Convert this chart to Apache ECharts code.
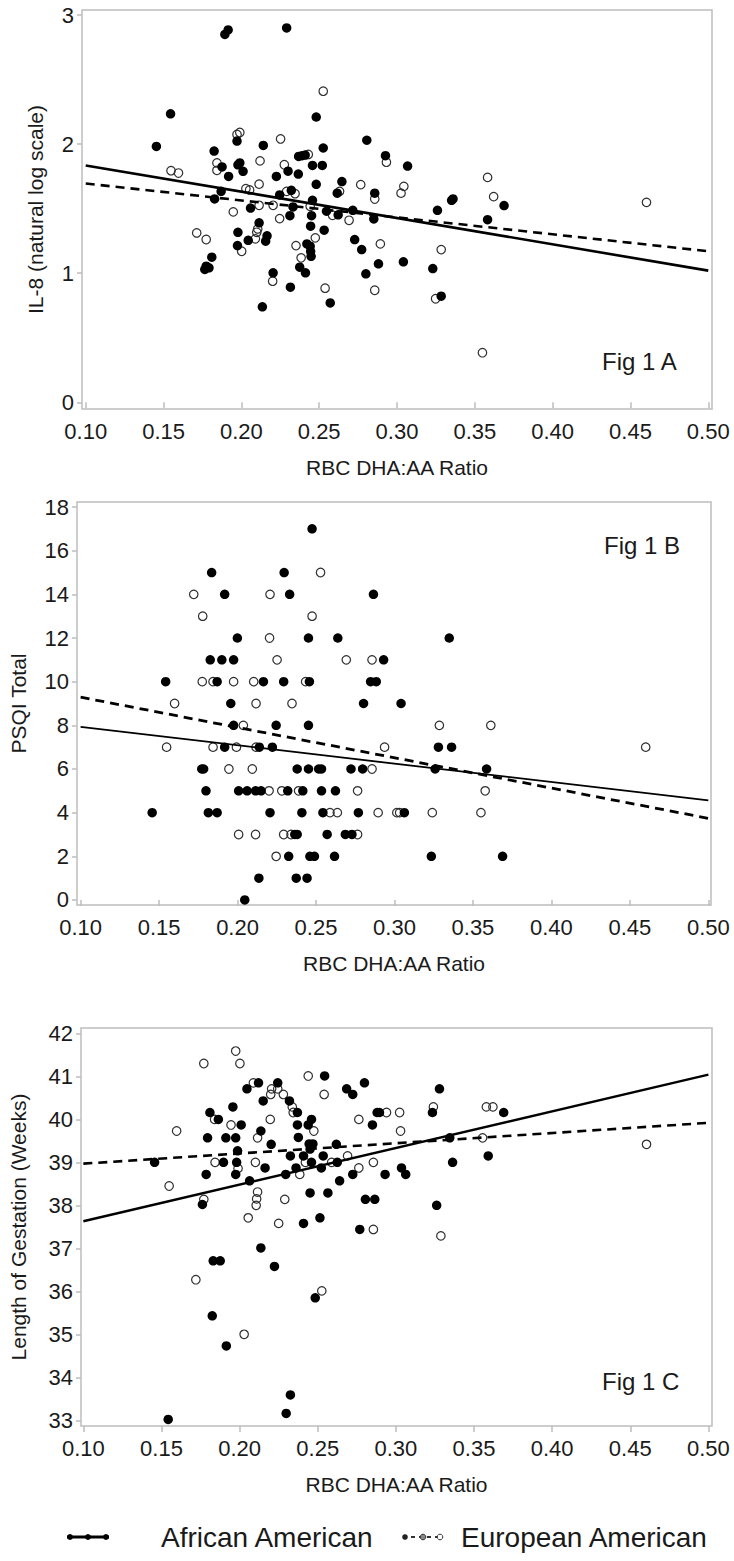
<!DOCTYPE html>
<html>
<head>
<meta charset="utf-8">
<script src="https://cdn.jsdelivr.net/npm/echarts@6/dist/echarts.min.js"></script>
<style>
html,body{margin:0;padding:0;background:#fff;}
#chart{width:734px;height:1561px;}
</style>
</head>
<body>
<div id="chart"></div>
<script>
// ---------- data ----------
const xTicks = [0.10, 0.15, 0.20, 0.25, 0.30, 0.35, 0.40, 0.45, 0.50];
const yTicksA = [0, 1, 2, 3];
const yTicksB = [0, 2, 4, 6, 8, 10, 12, 14, 16, 18];
const yTicksC = [33, 34, 35, 36, 37, 38, 39, 40, 41, 42];

// Fig 1A: IL-8 (natural log scale)
const aAfrican = [[0.1894,2.85],[0.1915,2.885],[0.2291,2.90],[0.1545,2.235],[0.2481,2.21],[0.1972,2.024],[0.1454,1.982],[0.2141,1.99],[0.2526,1.97],[0.2806,2.03],[0.1825,1.946],[0.2926,1.91],[0.2368,1.905],[0.2390,1.91],[0.2410,1.915],[0.1876,1.823],[0.1978,1.84],[0.1990,1.854],[0.2011,1.789],[0.1918,1.75],[0.2457,1.835],[0.2520,1.835],[0.3068,1.83],[0.2225,1.75],[0.2300,1.79],[0.2366,1.768],[0.2481,1.689],[0.2646,1.71],[0.1870,1.634],[0.2246,1.606],[0.2321,1.642],[0.2616,1.62],[0.2857,1.62],[0.1828,1.575],[0.2457,1.565],[0.3351,1.565],[0.3360,1.575],[0.3688,1.524],[0.2059,1.505],[0.2332,1.513],[0.2547,1.48],[0.2716,1.487],[0.2312,1.446],[0.2451,1.446],[0.2622,1.452],[0.2851,1.42],[0.3260,1.487],[0.3582,1.415],[0.2114,1.39],[0.2445,1.364],[0.2532,1.333],[0.1978,1.317],[0.2165,1.29],[0.2156,1.248],[0.2044,1.255],[0.2728,1.261],[0.2421,1.227],[0.2442,1.209],[0.2445,1.17],[0.2448,1.131],[0.1975,1.214],[0.2773,1.183],[0.1810,1.124],[0.1774,1.054],[0.1765,1.029],[0.1792,1.042],[0.2881,1.073],[0.3041,1.088],[0.2375,1.047],[0.2412,1.003],[0.3230,1.036],[0.2204,1.003],[0.2800,0.995],[0.2315,0.892],[0.3284,0.822],[0.2135,0.74],[0.2571,0.77]];
const aEuropean = [[0.2526,2.41],[0.1972,2.075],[0.1990,2.09],[0.2252,2.04],[0.2430,1.92],[0.1843,1.854],[0.1843,1.797],[0.2120,1.87],[0.2276,1.84],[0.2932,1.86],[0.1548,1.794],[0.1596,1.776],[0.2114,1.69],[0.2767,1.686],[0.3582,1.742],[0.2029,1.655],[0.2053,1.645],[0.2291,1.634],[0.2345,1.616],[0.2631,1.634],[0.2857,1.575],[0.3026,1.62],[0.3044,1.673],[0.3621,1.593],[0.4603,1.549],[0.2114,1.526],[0.2204,1.526],[0.2442,1.518],[0.1948,1.475],[0.2586,1.449],[0.2246,1.423],[0.2692,1.41],[0.2105,1.343],[0.2099,1.317],[0.2090,1.266],[0.1713,1.312],[0.1774,1.261],[0.2475,1.274],[0.2351,1.214],[0.2002,1.17],[0.2893,1.227],[0.3284,1.183],[0.2384,1.119],[0.2201,0.938],[0.2538,0.884],[0.2857,0.868],[0.3248,0.802],[0.3549,0.384]];
const aFitAfrican = [[0.10,1.835],[0.50,1.02]];
const aFitEuropean = [[0.10,1.695],[0.50,1.17]];

// Fig 1B: PSQI Total
const bAfrican = [[0.2475,17],[0.1835,15],[0.2297,15],[0.1918,14],[0.2332,14],[0.2866,14],[0.1999,12],[0.2452,12],[0.2639,12],[0.3349,12],[0.1826,11],[0.1900,11],[0.1975,11],[0.2931,11],[0.1542,10],[0.1870,10],[0.2165,10],[0.2294,10],[0.2458,10],[0.2848,10],[0.2884,10],[0.1957,9],[0.2803,9],[0.3042,9],[0.1975,8],[0.2246,8],[0.2452,8],[0.1918,7],[0.2139,7],[0.2222,7],[0.3280,7],[0.3364,7],[0.1772,6],[0.1784,6],[0.2380,6],[0.2452,6],[0.2517,6],[0.2535,6],[0.2723,6],[0.2797,6],[0.3259,6],[0.3587,6],[0.1799,5],[0.2007,5],[0.2061,5],[0.2115,5],[0.2150,5],[0.2320,5],[0.2416,5],[0.2535,5],[0.2624,5],[0.1456,4],[0.1814,4],[0.1870,4],[0.2207,4],[0.2410,4],[0.2544,4],[0.2770,4],[0.3063,4],[0.2365,3],[0.2380,3],[0.2571,3],[0.2687,3],[0.2729,3],[0.2326,2],[0.2461,2],[0.2490,2],[0.2618,2],[0.3235,2],[0.3689,2],[0.2136,1],[0.2374,1],[0.2443,1],[0.2046,0]];
const bEuropean = [[0.2529,15],[0.1721,14],[0.2207,14],[0.1778,13],[0.2475,13],[0.2204,12],[0.2252,11],[0.2693,11],[0.2857,11],[0.1775,10],[0.1844,10],[0.1975,10],[0.2103,10],[0.2434,10],[0.1599,9],[0.2118,9],[0.2347,9],[0.2037,8],[0.3286,8],[0.3614,8],[0.1548,7],[0.1844,7],[0.1993,7],[0.2118,7],[0.2937,7],[0.4601,7],[0.1945,6],[0.2094,6],[0.2857,6],[0.2201,5],[0.2282,5],[0.2389,5],[0.2765,5],[0.3578,5],[0.2589,4],[0.2636,4],[0.2896,4],[0.3015,4],[0.3033,4],[0.3241,4],[0.3551,4],[0.2007,3],[0.2115,3],[0.2294,3],[0.2341,3],[0.2765,3],[0.2246,2]];
const bFitAfrican = [[0.10,7.93],[0.50,4.56]];
const bFitEuropean = [[0.10,9.29],[0.50,3.74]];

// Fig 1C: Length of Gestation (Weeks)
const cAfrican = [[0.2544,41.01],[0.2121,40.85],[0.2244,40.85],[0.2799,40.85],[0.2047,40.71],[0.2685,40.71],[0.2724,40.58],[0.3279,40.71],[0.2319,40.43],[0.2151,40.43],[0.3690,40.16],[0.1810,40.16],[0.1957,40.29],[0.2370,40.16],[0.2880,40.16],[0.2895,40.16],[0.3234,40.16],[0.1864,40.0],[0.2460,40.0],[0.2010,39.87],[0.2370,39.87],[0.2439,39.87],[0.2850,39.87],[0.1795,39.57],[0.1912,39.57],[0.1975,39.57],[0.2136,39.73],[0.2376,39.58],[0.3345,39.57],[0.2202,39.42],[0.2445,39.43],[0.2469,39.43],[0.2619,39.42],[0.1987,39.27],[0.2451,39.31],[0.2325,39.15],[0.2409,39.15],[0.2535,39.15],[0.3591,39.15],[0.1456,39.0],[0.1897,39.0],[0.1981,39.0],[0.2460,39.0],[0.2625,39.0],[0.3363,39.0],[0.2163,38.87],[0.2361,38.87],[0.2523,38.87],[0.3036,38.87],[0.1786,38.72],[0.1975,38.72],[0.2295,38.72],[0.2724,38.72],[0.2931,38.72],[0.3063,38.72],[0.2064,38.57],[0.2640,38.57],[0.2451,38.29],[0.2565,38.29],[0.2805,38.14],[0.2865,38.14],[0.1762,38.02],[0.3261,38.0],[0.2514,37.71],[0.2409,37.58],[0.2769,37.44],[0.2136,37.01],[0.2223,36.58],[0.1831,36.71],[0.1876,36.71],[0.2484,35.85],[0.1825,35.43],[0.1915,34.73],[0.2325,33.59],[0.2298,33.16],[0.1543,33.02]];
const cEuropean = [[0.1975,41.59],[0.1771,41.30],[0.2002,41.30],[0.2439,41.01],[0.2088,40.85],[0.2205,40.71],[0.2244,40.71],[0.2199,40.58],[0.2280,40.58],[0.2541,40.58],[0.2337,40.29],[0.2343,40.16],[0.3240,40.29],[0.3579,40.29],[0.3621,40.29],[0.2940,40.16],[0.3024,40.16],[0.1840,40.0],[0.2196,40.0],[0.2763,40.0],[0.1945,39.87],[0.1597,39.73],[0.2115,39.57],[0.2475,39.73],[0.3030,39.73],[0.3555,39.57],[0.4604,39.42],[0.2691,39.15],[0.1843,39.0],[0.2101,39.0],[0.2421,39.0],[0.2589,39.0],[0.2856,39.0],[0.1990,38.86],[0.2763,38.87],[0.2385,38.72],[0.1549,38.45],[0.1771,38.14],[0.2115,38.31],[0.2109,38.15],[0.2106,38.0],[0.2289,38.14],[0.2055,37.71],[0.2250,37.58],[0.2856,37.44],[0.3288,37.29],[0.1720,36.27],[0.2526,36.01],[0.2029,35.0]];
const cFitAfrican = [[0.10,37.63],[0.50,41.04]];
const cFitEuropean = [[0.10,38.97],[0.50,39.92]];

const xTitle = 'RBC DHA:AA Ratio';
const yTitles = ['IL-8 (natural log scale)', 'PSQI Total', 'Length of Gestation (Weeks)'];
const figLabels = ['Fig 1 A', 'Fig 1 B', 'Fig 1 C'];
const legendNames = ['African American', 'European American'];

// ---------- chart ----------
const FONT = "'Liberation Sans', Arial, Helvetica, sans-serif";
const TXT = '#1a1a1a';
const FRAME = '#bdbdbd';

const grids = [
  {left: 82, top: 10, width: 630, height: 399},
  {left: 76, top: 502, width: 635, height: 403},
  {left: 81, top: 1028, width: 631, height: 398}
];
const xRanges = [[0.0976, 0.5024], [0.0977, 0.5017], [0.0985, 0.5023]];
const yRanges = [[-0.052, 3.039], [-0.23, 18.23], [32.867, 42.126]];
const yTickSets = [yTicksA, yTicksB, yTicksC];
const yNameGaps = [36, 48, 52];

function fmtX(v){ return v.toFixed(2); }

const option = {
  animation: false,
  backgroundColor: '#fff',
  textStyle: {fontFamily: FONT},
  grid: grids.map(g => Object.assign({show: true, borderColor: FRAME, borderWidth: 1.5, backgroundColor: 'transparent'}, g)),
  xAxis: grids.map((g, i) => ({
    type: 'value', gridIndex: i,
    min: xRanges[i][0], max: xRanges[i][1],
    name: xTitle, nameLocation: 'middle', nameGap: 48,
    nameTextStyle: {fontSize: 21, color: TXT, fontFamily: FONT},
    axisLine: {show: false},
    axisTick: {show: true, inside: false, length: 6, customValues: xTicks, lineStyle: {color: FRAME, width: 1.5}},
    axisLabel: {customValues: xTicks, formatter: fmtX, fontSize: 22, color: TXT, margin: 11, fontFamily: FONT},
    splitLine: {show: false}
  })),
  yAxis: grids.map((g, i) => ({
    type: 'value', gridIndex: i,
    min: yRanges[i][0], max: yRanges[i][1],
    name: yTitles[i], nameLocation: 'middle', nameGap: yNameGaps[i], nameRotate: 90,
    nameTextStyle: {fontSize: 21, color: TXT, fontFamily: FONT},
    axisLine: {show: false},
    axisTick: {show: true, inside: false, length: 5, customValues: yTickSets[i], lineStyle: {color: FRAME, width: 1.5}},
    axisLabel: {customValues: yTickSets[i], fontSize: 22, color: TXT, margin: 8, fontFamily: FONT},
    splitLine: {show: false}
  })),
  series: [],
  graphic: []
};

const sets = [
  [aAfrican, aEuropean, aFitAfrican, aFitEuropean],
  [bAfrican, bEuropean, bFitAfrican, bFitEuropean],
  [cAfrican, cEuropean, cFitAfrican, cFitEuropean]
];
const solidW = [2.6, 1.8, 2.4];
const dashW = [2.6, 2.8, 2.6];

sets.forEach((s, i) => {
  option.series.push({
    type: 'scatter', name: legendNames[1], xAxisIndex: i, yAxisIndex: i, data: s[1],
    symbol: 'circle', symbolSize: 8.5,
    itemStyle: {color: 'rgba(255,255,255,0)', borderColor: '#2e2e2e', borderWidth: 1.2, opacity: 1},
    z: 2
  });
  option.series.push({
    type: 'scatter', name: legendNames[0], xAxisIndex: i, yAxisIndex: i, data: s[0],
    symbol: 'circle', symbolSize: 9.5,
    itemStyle: {color: '#000', borderWidth: 0, opacity: 1},
    z: 3
  });
  option.series.push({
    type: 'line', name: legendNames[0] + ' fit', xAxisIndex: i, yAxisIndex: i, data: s[2],
    showSymbol: false, symbol: 'none',
    lineStyle: {color: '#000', width: solidW[i], type: 'solid'}, z: 4
  });
  option.series.push({
    type: 'line', name: legendNames[1] + ' fit', xAxisIndex: i, yAxisIndex: i, data: s[3],
    showSymbol: false, symbol: 'none',
    lineStyle: {color: '#000', width: dashW[i], type: [9, 6]}, z: 4
  });
});

// Fig labels
const figPos = [[602, 349], [604, 533], [602, 1369]];
figPos.forEach((p, i) => {
  option.graphic.push({
    type: 'text', left: p[0], top: p[1], z: 10,
    style: {text: figLabels[i], fontSize: 24, fill: TXT, fontFamily: FONT}
  });
});

// Legend (bottom), absolute coordinates
const LY = 1537;
option.graphic.push({
  type: 'group', x: 0, y: 0, z: 10,
  children: [
    {type: 'line', shape: {x1: 67, y1: LY, x2: 109, y2: LY}, style: {stroke: '#000', lineWidth: 3}},
    {type: 'circle', shape: {cx: 70, cy: LY, r: 3}, style: {fill: '#000'}},
    {type: 'circle', shape: {cx: 88, cy: LY, r: 3}, style: {fill: '#000'}},
    {type: 'circle', shape: {cx: 106, cy: LY, r: 3}, style: {fill: '#000'}},
    {type: 'text', style: {x: 161, y: LY, text: legendNames[0], fontSize: 28, fill: TXT, fontFamily: FONT, verticalAlign: 'middle', align: 'left'}},
    {type: 'line', shape: {x1: 403, y1: LY, x2: 442, y2: LY}, style: {stroke: '#333', lineWidth: 2, lineDash: [4, 4]}},
    {type: 'circle', shape: {cx: 405, cy: LY, r: 2.8}, style: {fill: '#222'}},
    {type: 'circle', shape: {cx: 423, cy: LY, r: 2.8}, style: {fill: '#888', stroke: '#333', lineWidth: 1}},
    {type: 'circle', shape: {cx: 440, cy: LY, r: 2.8}, style: {fill: '#fff', stroke: '#333', lineWidth: 1}},
    {type: 'text', style: {x: 461, y: LY, text: legendNames[1], fontSize: 28, fill: TXT, fontFamily: FONT, verticalAlign: 'middle', align: 'left'}}
  ]
});

const chart = echarts.init(document.getElementById('chart'), null, {renderer: 'svg', width: 734, height: 1561});
chart.setOption(option);
</script>
</body>
</html>
